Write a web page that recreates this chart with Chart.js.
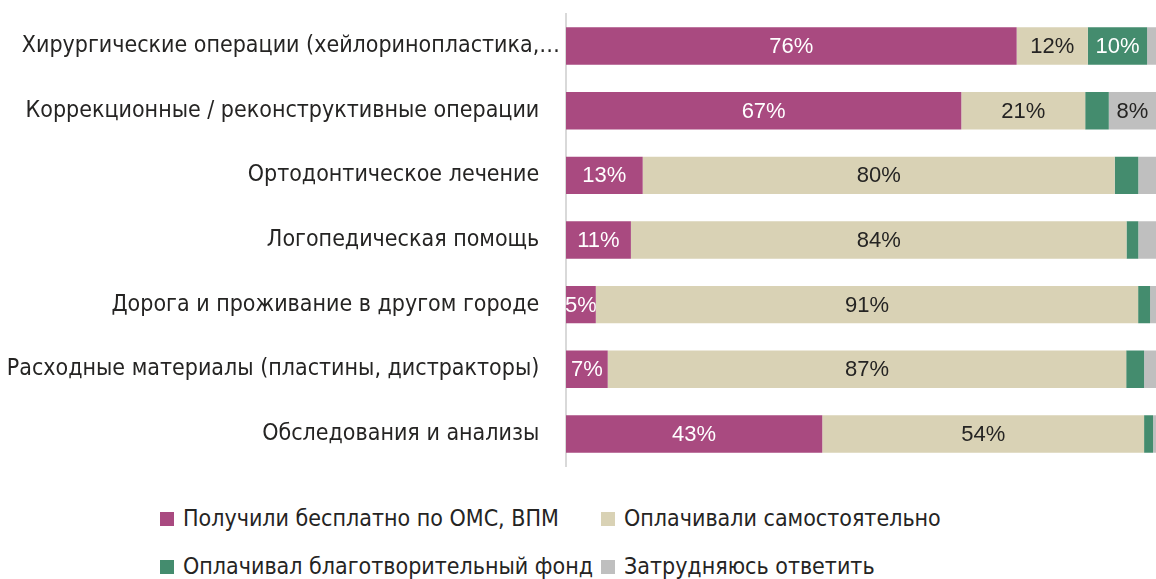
<!DOCTYPE html>
<html lang="ru">
<head>
<meta charset="utf-8">
<script src="https://cdn.jsdelivr.net/npm/chart.js@4/dist/chart.umd.min.js"></script>
<style>
  html, body { margin: 0; padding: 0; background: #fff; }
  #wrap { position: relative; width: 1156px; height: 579px; overflow: hidden; }
  #chartBox { position: absolute; left: 0; top: -6px; width: 1156px; height: 492px; }
  #legend {
    position: absolute; left: 160px; top: 505px;
    display: grid; grid-template-columns: 441px auto; row-gap: 21px;
    font-family: 'Liberation Sans Narrow', 'DejaVu Sans Condensed', Roboto, sans-serif;
    font-size: 23px; line-height: 27px; color: #252423;
  }
  .item { display: flex; align-items: center; white-space: nowrap; }
  .sw { width: 14px; height: 14px; margin-right: 9px; flex: none; }
</style>
</head>
<body>
<div id="wrap">
  <div id="chartBox"><canvas id="chart"></canvas></div>
  <div id="legend"></div>
</div>
<script>
const categories = [
  'Хирургические операции (хейлоринопластика,…',
  'Коррекционные / реконструктивные операции',
  'Ортодонтическое лечение',
  'Логопедическая помощь',
  'Дорога и проживание в другом городе',
  'Расходные материалы (пластины, дистракторы)',
  'Обследования и анализы'
];
const seriesNames = [
  'Получили бесплатно по ОМС, ВПМ',
  'Оплачивали самостоятельно',
  'Оплачивал благотворительный фонд',
  'Затрудняюсь ответить'
];
// raw percentages
const freeOms  = [76, 67, 13, 11, 5, 7, 43];
const selfPaid = [12, 21, 80, 84, 91, 87, 54];
const charity  = [10, 4, 4, 2, 2, 3, 1.5];
const unsure   = [1.5, 8, 3, 3, 1, 2, 0.5];

const colors = ['#A94A80', '#D9D2B5', '#448C6E', '#BFBFBF'];
const labelColors = ['#ffffff', '#252423', '#ffffff', '#252423'];
const raw = [freeOms, selfPaid, charity, unsure];

// 100% stacked: normalise each row
const totals = categories.map((c, i) => raw.reduce((s, a) => s + a[i], 0));
const datasets = raw.map((arr, k) => ({
  label: seriesNames[k],
  data: arr.map((v, i) => v / totals[i] * 100),
  rawValues: arr,
  backgroundColor: colors[k],
  borderWidth: 0,
  barPercentage: 0.58,
  categoryPercentage: 1
}));

const labelFont = "22px 'Liberation Sans', Arial, sans-serif";

const barLabels = {
  id: 'barLabels',
  afterDatasetsDraw(chart) {
    const ctx = chart.ctx;
    chart.data.datasets.forEach((ds, k) => {
      const meta = chart.getDatasetMeta(k);
      meta.data.forEach((bar, i) => {
        const v = ds.rawValues[i];
        if (v < 5) return;
        const left = Math.min(bar.base, bar.x), right = Math.max(bar.base, bar.x);
        const h = bar.height;
        ctx.save();
        ctx.beginPath();
        ctx.rect(left, bar.y - h / 2, right - left, h);
        ctx.clip();
        ctx.font = labelFont;
        ctx.fillStyle = labelColors[k];
        ctx.textAlign = 'center';
        ctx.textBaseline = 'middle';
        ctx.fillText(Math.round(v) + '%', (left + right) / 2, bar.y + 1);
        ctx.restore();
      });
    });
  }
};

new Chart(document.getElementById('chart'), {
  type: 'bar',
  data: { labels: categories, datasets: datasets },
  plugins: [barLabels],
  options: {
    indexAxis: 'y',
    responsive: true,
    maintainAspectRatio: false,
    animation: false,
    layout: { padding: { top: 6, bottom: 7, left: 0, right: 0 } },
    plugins: { legend: { display: false }, tooltip: { enabled: false } },
    scales: {
      x: { stacked: true, min: 0, max: 100, display: false },
      y: {
        stacked: true,
        afterFit(scale) { scale.width = 566; },
        grid: { display: true, drawOnChartArea: false, drawTicks: false },
        border: { display: true, color: '#D9D9D9', width: 2 },
        ticks: {
          color: '#252423',
          padding: 6,
          font: { family: "'Liberation Sans Narrow', 'DejaVu Sans Condensed', Roboto, sans-serif", size: 23 },
          callback(value, index) {
            const t = categories[index];
            return t.endsWith('…') ? t : t + '\u2003';
          }
        }
      }
    }
  }
});

const legend = document.getElementById('legend');
seriesNames.forEach((name, k) => {
  const item = document.createElement('div');
  item.className = 'item';
  const sw = document.createElement('span');
  sw.className = 'sw';
  sw.style.background = colors[k];
  item.appendChild(sw);
  item.appendChild(document.createTextNode(name));
  legend.appendChild(item);
});
</script>
</body>
</html>
